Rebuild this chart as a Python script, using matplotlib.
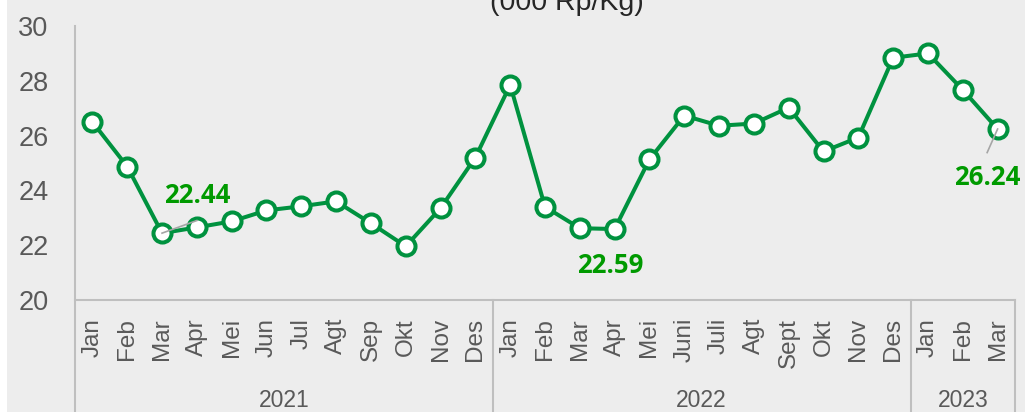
import matplotlib
matplotlib.use("Agg")
import matplotlib.pyplot as plt
from matplotlib.patches import Rectangle

months = ['Jan', 'Feb', 'Mar', 'Apr', 'Mei', 'Jun', 'Jul', 'Agt', 'Sep', 'Okt', 'Nov', 'Des',
          'Jan', 'Feb', 'Mar', 'Apr', 'Mei', 'Juni', 'Juli', 'Agt', 'Sept', 'Okt', 'Nov', 'Des',
          'Jan', 'Feb', 'Mar']
prices = [26.50, 24.87, 22.44, 22.65, 22.87, 23.27, 23.42, 23.60, 22.80, 21.96, 23.35, 25.20,
          27.85, 23.40, 22.62, 22.59, 25.13, 26.73, 26.36, 26.44, 27.02, 25.42, 25.93, 28.84,
          29.00, 27.67, 26.24]
years = ['2021', '2022', '2023']
year_counts = [12, 12, 3]
labelled = [2, 15, 26]
title = '(000 Rp/Kg)'

sans = ['Liberation Sans', 'DejaVu Sans']
green = '#00923F'
lab_green = '#009A00'
grey_txt = '#595959'
line_grey = '#BFBFBF'
bg = '#EDEDED'

fig = plt.figure(figsize=(10.25, 4.12), dpi=100)
fig.patch.set_facecolor('white')
fig.patches.append(Rectangle((7 / 1025, 0), 1, 1, transform=fig.transFigure,
                             facecolor=bg, edgecolor='none', zorder=-10))
ax = fig.add_axes([75 / 1025, 112 / 412, 940 / 1025, 274 / 412])
ax.set_facecolor(bg)
ax.patch.set_alpha(0)

x = list(range(len(prices)))
ax.plot(x, prices, color=green, lw=2.9, marker='o', ms=13, mfc='white', mec=green,
        mew=2.9, zorder=5, clip_on=False)

ax.set_xlim(-0.5, len(prices) - 0.5)
ax.set_ylim(20, 30)
ax.set_yticks([20, 22, 24, 26, 28, 30])
ax.tick_params(axis='y', length=0, pad=19, labelsize=19.5, labelcolor=grey_txt)
for t in ax.get_yticklabels():
    t.set_family(sans)
ax.set_xticks([])
for s in ax.spines.values():
    s.set_visible(False)

xt = ax.get_xaxis_transform()
bottom = -112 / 274
# axis line, left line, group separators
ax.plot([-0.5, len(prices) - 0.5], [0, 0], color=line_grey, lw=1.5, transform=xt, clip_on=False)
ax.plot([-0.5, -0.5], [1, bottom], color=line_grey, lw=1.5, transform=xt, clip_on=False)
edge = -0.5
for yr, n in zip(years, year_counts):
    nxt = edge + n
    ax.plot([nxt, nxt], [0, bottom], color=line_grey, lw=1.5, transform=xt, clip_on=False)
    ax.text((edge + nxt) / 2, -89 / 274, yr, transform=xt, ha='center', va='top',
            fontsize=16.5, color=grey_txt, family=sans)
    edge = nxt

for i, m in enumerate(months):
    ax.text(i, -18 / 274, m, transform=xt, rotation=90, ha='center', va='top',
            fontsize=17.5, color=grey_txt, family=sans)

# data labels
lab_pos = [(3.0, 23.8), (14.87, 21.27), (25.7, 24.47)]
leaders = [(3.0, 22.9), None, (25.7, 25.38)]
for i, (lx, ly), ld in zip(labelled, lab_pos, leaders):
    if ld is not None:
        ax.plot([i, ld[0]], [prices[i], ld[1]], color='#A6A6A6', lw=1.2, zorder=6)
    ax.text(lx, ly, f'{prices[i]:.2f}', ha='center', va='center', fontsize=18.5,
            fontweight='bold', color=lab_green, family=['Open Sans', 'DejaVu Sans'], zorder=7)

fig.text(567 / 1025, 1 - 10 / 412, title, ha='center', va='baseline', fontsize=20.5,
         color='#262626', family=sans)

fig.savefig('out.png', dpi=100, facecolor=fig.get_facecolor())
